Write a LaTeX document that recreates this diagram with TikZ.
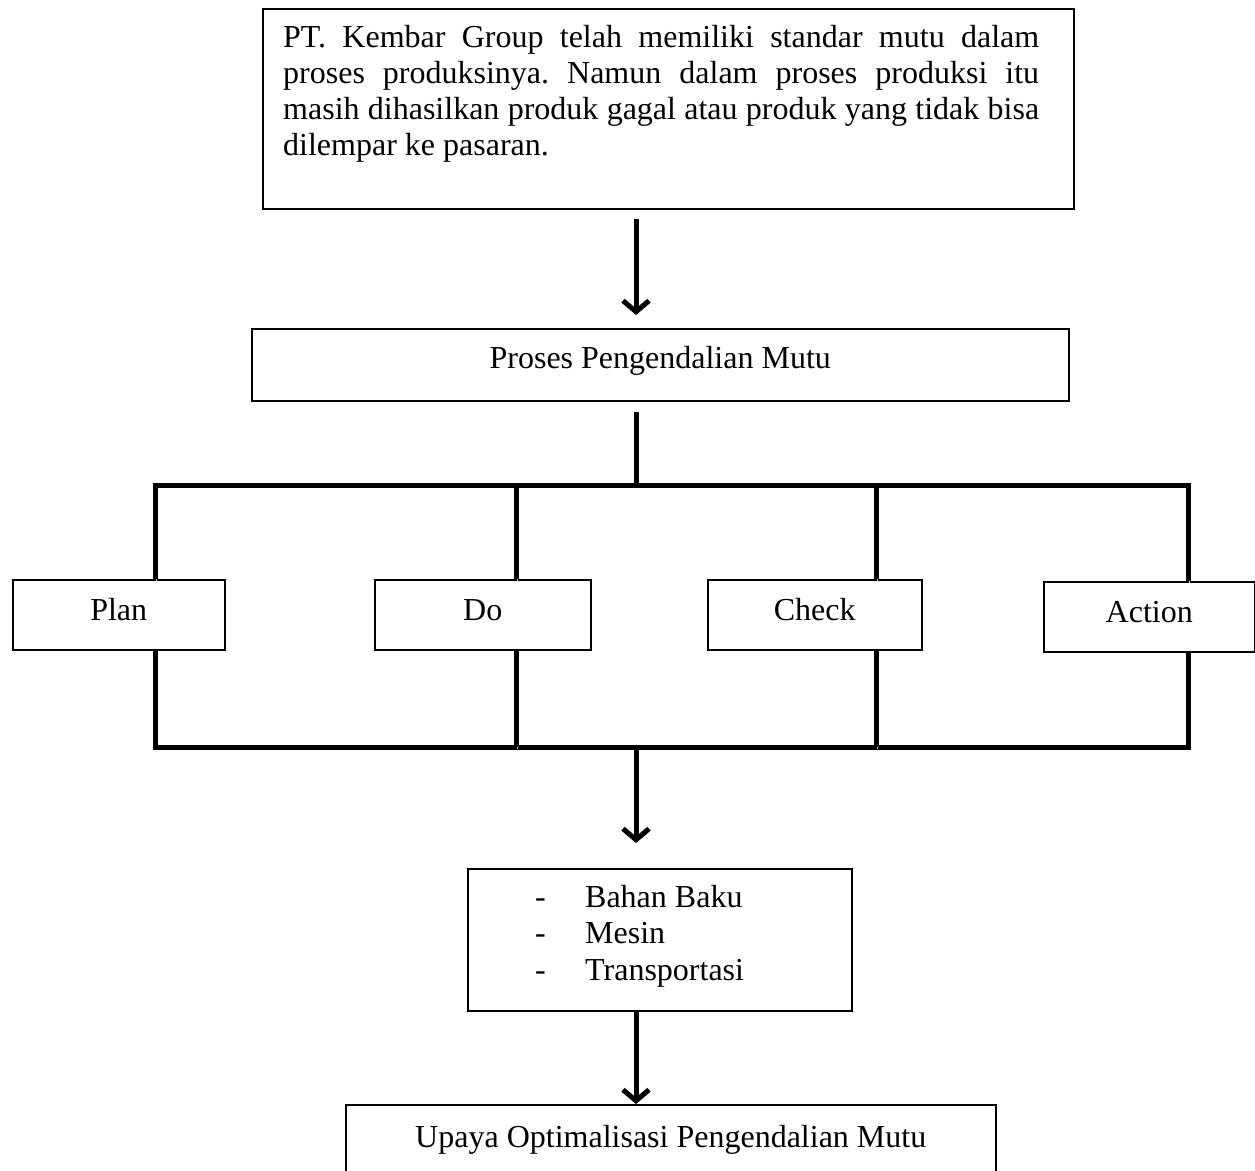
\documentclass[tikz,border=0pt]{standalone}
\usepackage{fontspec}
\setmainfont{Liberation Serif}
\usetikzlibrary{arrows.meta}
\frenchspacing
\begin{document}
\begin{tikzpicture}[x=1pt,y=-1pt,
  every node/.style={font=\fontsize{32pt}{36.8pt}\selectfont},
  box/.style={draw=black, line width=1.5pt, fill=white, inner sep=0pt, anchor=north west},
  shadowed/.style={preaction={draw=black!22, transform canvas={shift={(1.2pt,-2pt)}}}},
  bar/.style={line width=5pt, shadowed},
  arr/.style={bar, -{Straight Barb[length=11pt,width=26pt]}}]
\useasboundingbox (0,0) rectangle (1255,1170);

% boxes
\node[box, minimum width=811pt, minimum height=200pt] (top) at (262,8) {};
\node[anchor=base west, inner sep=0pt] (toptext) at (283,47) {\parbox[t]{756pt}{\fontsize{32pt}{36pt}\selectfont\frenchspacing
\makebox[756pt][s]{PT. Kembar Group telah memiliki standar mutu dalam}\\
\makebox[756pt][s]{proses produksinya. Namun dalam proses produksi itu}\\
\makebox[756pt][s]{masih dihasilkan produk gagal atau produk yang tidak bisa}\\
dilempar ke pasaran.}};

\node[box, minimum width=817pt, minimum height=72pt, text height=22pt, text depth=14pt] (proc) at (251,328) {Proses Pengendalian Mutu};

\node[box, minimum width=212pt, minimum height=70pt, text height=24pt, text depth=12pt] (plan) at (12,579) {Plan};
\node[box, minimum width=216pt, minimum height=70pt, text height=24pt, text depth=12pt] (do) at (374,579) {Do};
\node[box, minimum width=214pt, minimum height=70pt, text height=24pt, text depth=12pt] (check) at (707,579) {Check};
\node[box, minimum width=211pt, minimum height=70pt, text height=24pt, text depth=12pt] (action) at (1043,581) {Action};

\node[box, minimum width=384pt, minimum height=142pt] (list) at (467,868) {};
\node[anchor=base west, inner sep=0pt] (listtext) at (535,907) {\parbox[t]{300pt}{%
\makebox[50pt][l]{-}Bahan Baku\\
\makebox[50pt][l]{-}Mesin\\
\makebox[50pt][l]{-}Transportasi}};

\node[box, minimum width=650pt, minimum height=72pt, text height=24pt, text depth=10pt] (upaya) at (345,1104) {Upaya Optimalisasi Pengendalian Mutu};

% coordinates
\coordinate (a1s) at (636,219);
\coordinate (a1e) at (636,315);
\coordinate (c1) at (636,412);
\coordinate (v1t) at (155,485);
\coordinate (v2t) at (516,485);
\coordinate (v3t) at (876,485);
\coordinate (v4t) at (1188,485);
\coordinate (v1b) at (155,747);
\coordinate (v2b) at (516,747);
\coordinate (v3b) at (876,747);
\coordinate (v4b) at (1188,747);
\coordinate (a2s) at (636,747);
\coordinate (a2e) at (636,843);

% connectors
\draw[arr] (a1s) -- (a1e);
\draw[bar] (c1) -- (c1 |- v1t);
\draw[bar] (plan.north -| v1t) -- (v1t) -- (v4t) -- (action.north -| v4t);
\draw[bar] (do.north -| v2t) -- (v2t);
\draw[bar] (check.north -| v3t) -- (v3t);
\draw[bar] (plan.south -| v1b) -- (v1b) -- (v4b) -- (action.south -| v4b);
\draw[bar] (do.south -| v2b) -- (v2b);
\draw[bar] (check.south -| v3b) -- (v3b);
\draw[arr] (a2s) -- (a2e);
\draw[arr] (list.south -| a2s) -- (upaya.north -| a2s);
\end{tikzpicture}
\end{document}
